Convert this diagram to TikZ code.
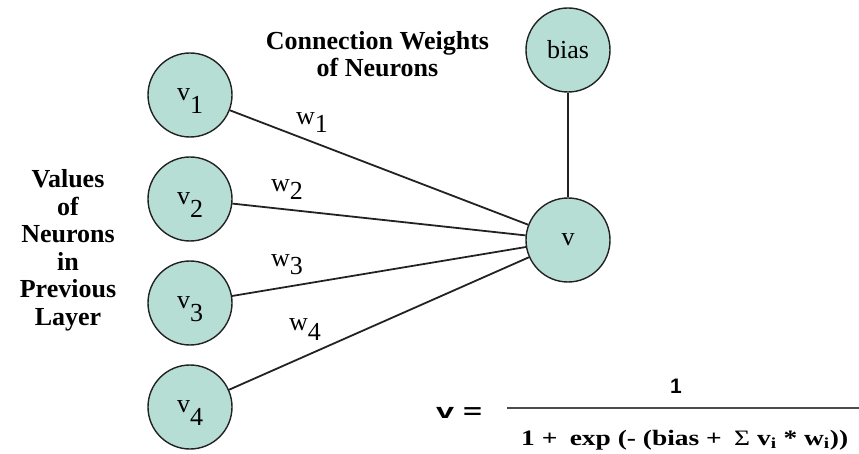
\documentclass[tikz,border=0pt]{standalone}
\usepackage{fontspec}
\setmainfont{Liberation Serif}
\setsansfont{Liberation Sans}
\usepackage{graphicx}
\definecolor{neuronfill}{RGB}{182,222,212}
\definecolor{edgecol}{RGB}{34,34,34}
\begin{document}
\begin{tikzpicture}[x=1pt,y=-1pt,
  neuron/.style={circle, draw=edgecol, line width=1.4pt, fill=neuronfill,
    minimum size=84pt, inner sep=0pt, font=\fontsize{26}{26}\selectfont},
  link/.style={draw=edgecol, line width=1.8pt},
  lbl/.style={font=\fontsize{26}{27}\selectfont\bfseries, inner sep=0pt, anchor=base},
  wlbl/.style={font=\fontsize{26}{26}\selectfont, inner sep=0pt, anchor=base west},
  fbar/.style={line width=2.5pt, draw=black!70}]
\useasboundingbox (0,0) rectangle (859,454);

% neurons
\node[neuron] (v1) at (190,95)  {v\raisebox{-13pt}[0pt][0pt]{1}};
\node[neuron] (v2) at (190,199) {v\raisebox{-13pt}[0pt][0pt]{2}};
\node[neuron] (v3) at (190,303) {v\raisebox{-13pt}[0pt][0pt]{3}};
\node[neuron] (v4) at (190,407) {v\raisebox{-13pt}[0pt][0pt]{4}};
\node[neuron] (v)  at (568,240) {v};
\node[neuron] (bias) at (568,50) {bias};

% connections
\draw[link] (v1) -- (v);
\draw[link] (v2) -- (v);
\draw[link] (v3) -- (v);
\draw[link] (v4) -- (v);
\draw[link] (bias) -- (v);

% weight labels
\node[wlbl] (w1) at (296,125) {w\raisebox{-8pt}{1}};
\node[wlbl] (w2) at (271,192) {w\raisebox{-8pt}{2}};
\node[wlbl] (w3) at (271,267) {w\raisebox{-8pt}{3}};
\node[wlbl] (w4) at (289,330) {w\raisebox{-10pt}{4}};

% captions
\node[lbl] (cw1) at (377.5,50) {Connection Weights};
\node[lbl] (cw2) at (377.5,77) {of Neurons};

\node[lbl] (lv1) at (68,188)   {Values};
\node[lbl] (lv2) at (68,215.4) {of};
\node[lbl] (lv3) at (68,242.8) {Neurons};
\node[lbl] (lv4) at (68,270.2) {in};
\node[lbl] (lv5) at (68,297.6) {Previous};
\node[lbl] (lv6) at (68,325)   {Layer};

% formula
\node[font=\sffamily\bfseries\fontsize{21}{21}\selectfont, inner sep=0pt, anchor=base west]
  (veq) at (436,418) {\resizebox{46pt}{\height}{v =}};
\node[font=\sffamily\bfseries\fontsize{21}{21}\selectfont, inner sep=0pt, anchor=base]
  (num) at (676,393) {1};
\coordinate (barL) at (507,408);
\coordinate (barR) at (859,408);
\draw[fbar] (barL) -- (barR);
\node[font=\bfseries\fontsize{22}{22}\selectfont, inner sep=0pt, anchor=base west]
  (den) at (521,445) {\resizebox{327pt}{\height}{1 +\hspace{0.45em}exp (- (bias +\hspace{0.45em}{\mdseries Σ} v\textsubscript{i} * w\textsubscript{i}))}};
\end{tikzpicture}
\end{document}
